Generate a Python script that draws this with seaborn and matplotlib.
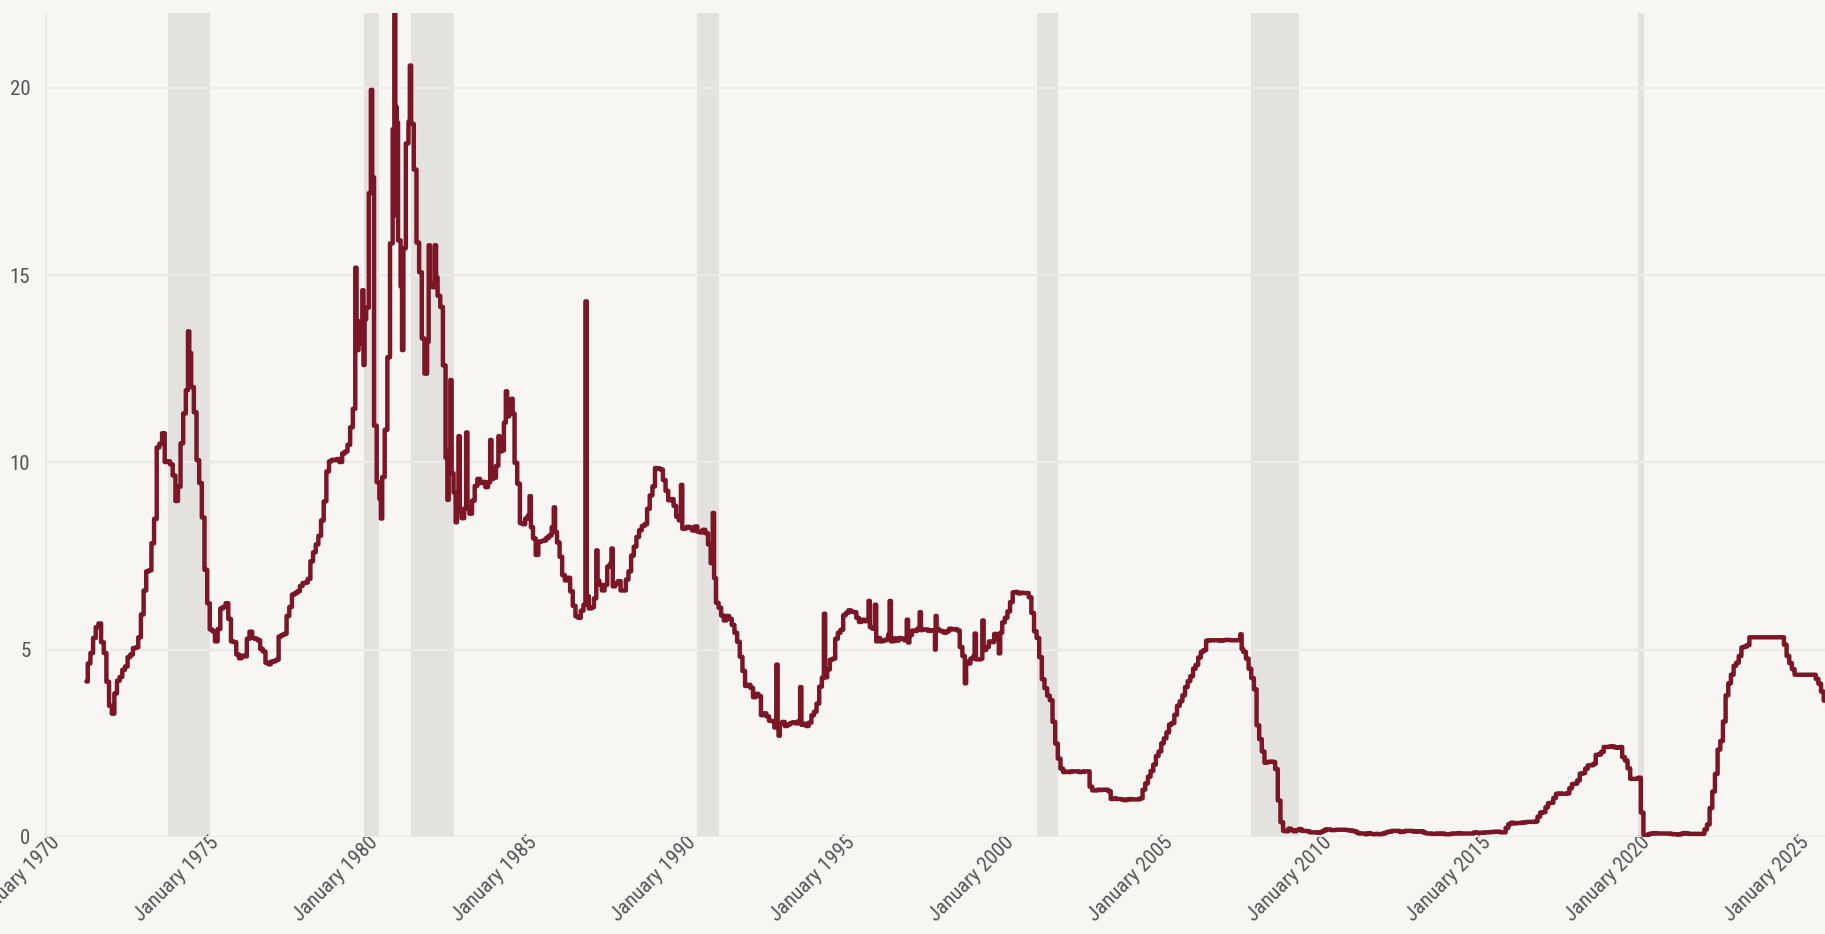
import numpy as np
import pandas as pd
import seaborn as sns
import matplotlib.pyplot as plt
import matplotlib.dates as mdates
import matplotlib.transforms as mtransforms

# Effective federal funds rate (%), monthly levels,
# first value is April 1971
rates_1970s = [
    4.15, 4.63, 4.91, 5.31, 5.60, 5.70, 5.20, 4.91, 4.14,
    3.50, 3.29, 3.83, 4.17, 4.27, 4.46, 4.55, 4.80, 4.87, 5.04, 5.06, 5.33,
    5.94, 6.58, 7.09, 7.12, 7.84, 8.49, 10.40, 10.50, 10.78, 10.01, 10.03, 9.95,
    9.65, 8.97, 9.35, 10.51, 11.31, 11.93, 12.92, 12.01, 11.34, 10.06, 9.45, 8.53,
    7.13, 6.24, 5.54, 5.49, 5.22, 5.55, 6.10, 6.14, 6.24, 5.82, 5.22, 5.20,
    4.87, 4.77, 4.84, 4.82, 5.29, 5.48, 5.31, 5.29, 5.25, 5.02, 4.95, 4.65,
    4.61, 4.68, 4.69, 4.73, 5.35, 5.39, 5.42, 5.90, 6.14, 6.47, 6.51, 6.56,
    6.70, 6.78, 6.79, 6.89, 7.36, 7.60, 7.81, 8.04, 8.45, 8.96, 9.76, 10.03,
    10.07, 10.06, 10.09, 10.01, 10.24, 10.29, 10.47, 10.94, 11.43, 13.77, 13.18, 13.78,
]
rates_1980s = [
    13.82, 14.13, 17.19, 17.61, 10.98, 9.47, 9.03, 9.61, 10.87, 12.81, 15.85, 18.90,
    19.08, 15.93, 14.70, 15.72, 18.52, 19.10, 19.04, 17.82, 15.87, 15.08, 13.31, 12.37,
    13.22, 14.78, 14.68, 14.94, 14.45, 14.15, 12.59, 10.12, 10.31, 9.71, 9.20, 8.95,
    8.68, 8.51, 8.77, 8.80, 8.63, 8.98, 9.37, 9.56, 9.45, 9.48, 9.34, 9.47,
    9.56, 9.59, 9.91, 10.29, 10.32, 11.06, 11.23, 11.64, 11.30, 9.99, 9.43, 8.38,
    8.35, 8.50, 8.58, 8.27, 7.97, 7.53, 7.88, 7.90, 7.92, 7.99, 8.05, 8.27,
    8.14, 7.86, 7.48, 6.99, 6.85, 6.92, 6.56, 6.17, 5.89, 5.85, 6.04, 6.20,
    6.43, 6.10, 6.13, 6.37, 6.85, 6.73, 6.58, 6.73, 7.22, 7.29, 6.69, 6.77,
    6.83, 6.58, 6.58, 6.87, 7.09, 7.51, 7.75, 8.01, 8.19, 8.30, 8.35, 8.76,
    9.12, 9.36, 9.85, 9.84, 9.81, 9.53, 9.24, 8.99, 9.02, 8.84, 8.55, 8.45,
]
rates_1990s = [
    8.23, 8.24, 8.28, 8.26, 8.18, 8.29, 8.15, 8.13, 8.20, 8.11, 7.81, 7.31,
    6.91, 6.25, 6.12, 5.91, 5.78, 5.90, 5.82, 5.66, 5.45, 5.21, 4.81, 4.43,
    4.03, 4.06, 3.98, 3.73, 3.82, 3.76, 3.25, 3.30, 3.22, 3.10, 3.09, 2.92,
    3.02, 3.03, 3.07, 2.96, 3.00, 3.04, 3.06, 3.03, 3.09, 2.99, 3.02, 2.96,
    3.05, 3.25, 3.34, 3.56, 4.01, 4.25, 4.26, 4.47, 4.73, 4.76, 5.29, 5.45,
    5.53, 5.92, 5.98, 6.05, 6.01, 6.00, 5.85, 5.74, 5.80, 5.76, 5.80, 5.60,
    5.56, 5.22, 5.31, 5.22, 5.24, 5.27, 5.40, 5.22, 5.30, 5.24, 5.31, 5.29,
    5.25, 5.19, 5.39, 5.51, 5.50, 5.56, 5.52, 5.54, 5.54, 5.50, 5.52, 5.50,
    5.56, 5.51, 5.49, 5.45, 5.49, 5.56, 5.54, 5.55, 5.51, 5.07, 4.83, 4.68,
    4.63, 4.76, 4.81, 4.74, 4.74, 4.76, 4.99, 5.07, 5.22, 5.20, 5.42, 5.30,
]
rates_2000s = [
    5.45, 5.73, 5.85, 6.02, 6.27, 6.53, 6.54, 6.50, 6.52, 6.51, 6.51, 6.40,
    5.98, 5.49, 5.31, 4.80, 4.21, 3.97, 3.77, 3.65, 3.07, 2.49, 2.09, 1.82,
    1.73, 1.74, 1.73, 1.75, 1.75, 1.75, 1.73, 1.74, 1.75, 1.75, 1.34, 1.24,
    1.24, 1.26, 1.25, 1.26, 1.26, 1.22, 1.01, 1.03, 1.01, 1.01, 1.00, 0.98,
    1.00, 1.01, 1.00, 1.00, 1.00, 1.03, 1.26, 1.43, 1.61, 1.76, 1.93, 2.16,
    2.28, 2.50, 2.63, 2.79, 3.00, 3.04, 3.26, 3.50, 3.62, 3.78, 4.00, 4.16,
    4.29, 4.49, 4.59, 4.79, 4.94, 4.99, 5.24, 5.25, 5.25, 5.25, 5.25, 5.24,
    5.25, 5.26, 5.26, 5.25, 5.25, 5.25, 5.26, 5.02, 4.94, 4.76, 4.49, 4.24,
    3.94, 2.98, 2.61, 2.28, 1.98, 2.00, 2.01, 2.00, 1.81, 0.97, 0.39, 0.16,
    0.15, 0.22, 0.18, 0.15, 0.18, 0.21, 0.16, 0.16, 0.15, 0.12, 0.12, 0.12,
]
rates_2010s = [
    0.11, 0.13, 0.16, 0.20, 0.20, 0.18, 0.18, 0.19, 0.19, 0.19, 0.19, 0.18,
    0.17, 0.16, 0.14, 0.10, 0.09, 0.09, 0.07, 0.10, 0.08, 0.07, 0.08, 0.07,
    0.08, 0.10, 0.13, 0.14, 0.16, 0.16, 0.16, 0.13, 0.14, 0.16, 0.16, 0.16,
    0.14, 0.15, 0.14, 0.15, 0.11, 0.09, 0.09, 0.08, 0.08, 0.09, 0.08, 0.09,
    0.07, 0.07, 0.08, 0.09, 0.09, 0.10, 0.09, 0.09, 0.09, 0.09, 0.09, 0.12,
    0.11, 0.11, 0.11, 0.12, 0.12, 0.13, 0.13, 0.14, 0.14, 0.12, 0.12, 0.24,
    0.34, 0.38, 0.36, 0.37, 0.37, 0.38, 0.39, 0.40, 0.40, 0.40, 0.41, 0.54,
    0.65, 0.66, 0.79, 0.90, 0.91, 1.04, 1.15, 1.16, 1.15, 1.15, 1.16, 1.30,
    1.41, 1.42, 1.51, 1.69, 1.70, 1.82, 1.91, 1.91, 1.95, 2.19, 2.20, 2.27,
    2.40, 2.40, 2.41, 2.42, 2.39, 2.38, 2.40, 2.13, 2.04, 1.83, 1.55, 1.55,
]
rates_2020s = [
    1.55, 1.58, 0.65, 0.05, 0.05, 0.08, 0.09, 0.10, 0.09, 0.09, 0.09, 0.09,
    0.09, 0.08, 0.07, 0.07, 0.06, 0.08, 0.10, 0.09, 0.08, 0.08, 0.08, 0.08,
    0.08, 0.08, 0.20, 0.33, 0.77, 1.21, 1.68, 2.33, 2.56, 3.08, 3.78, 4.10,
    4.33, 4.57, 4.65, 4.83, 5.06, 5.08, 5.12, 5.33, 5.33, 5.33, 5.33, 5.33,
    5.33, 5.33, 5.33, 5.33, 5.33, 5.33, 5.33, 5.33, 5.13, 4.83, 4.64, 4.48,
    4.33, 4.33, 4.33, 4.33, 4.33, 4.33, 4.33, 4.33, 4.22, 4.09, 3.88, 3.64,
]

# single-day spikes and dips that stick out of the daily series
spike_dates = [
    "1974-07-03", "1979-10-10", "1979-10-25", "1979-12-20", "1980-01-10",
    "1980-04-03", "1980-07-20", "1980-12-23", "1981-01-07", "1981-01-14",
    "1981-03-20", "1981-06-15", "1982-01-20", "1982-04-10", "1982-08-25",
    "1982-10-01", "1982-12-01", "1983-01-05", "1983-04-01", "1984-01-03",
    "1984-04-10", "1984-06-28", "1984-09-01", "1985-03-27", "1986-01-02",
    "1986-12-31", "1987-05-08", "1987-10-20", "1990-01-02", "1991-01-02",
    "1992-12-31", "1993-01-20", "1993-09-30", "1994-06-30", "1995-11-20",
    "1996-02-12", "1996-07-18", "1997-02-12", "1997-07-08", "1997-12-24",
    "1997-12-31", "1998-12-10", "1999-03-25", "1999-06-18", "1999-12-31",
    "2007-08-09",
]
spike_rates = [
    13.5, 15.2, 13.0, 14.6, 12.6,
    19.95, 8.5, 22.0, 16.6, 19.5,
    13.0, 20.6, 15.8, 15.8, 9.0,
    12.2, 8.4, 10.7, 10.8, 10.6,
    10.7, 11.9, 11.7, 9.1, 8.8,
    14.3, 7.65, 7.7, 9.4, 8.65,
    4.6, 2.7, 4.0, 5.96, 6.3,
    6.2, 6.3, 5.8, 6.0, 5.0,
    5.9, 4.1, 5.43, 5.78, 4.9,
    5.41,
]

recession_starts = ["1973-11-01", "1980-01-01", "1981-07-01", "1990-07-01",
                    "2001-03-01", "2007-12-01", "2020-02-01"]
recession_ends = ["1975-03-01", "1980-07-01", "1982-11-01", "1991-03-01",
                  "2001-11-01", "2009-06-01", "2020-04-01"]

bg = "#f8f6f2"
grid_c = "#ebe9e9"
shade_c = "#e3e2de"
line_c = "#7b1626"
text_c = "#555555"

monthly = rates_1970s + rates_1980s + rates_1990s + rates_2000s + rates_2010s + rates_2020s
month_dates = pd.date_range("1971-04-01", periods=len(monthly), freq="MS") + pd.Timedelta(days=14)
df = pd.concat([
    pd.DataFrame({"date": month_dates, "rate": monthly}),
    pd.DataFrame({"date": pd.to_datetime(spike_dates), "rate": spike_rates}),
]).sort_values("date").reset_index(drop=True)

sns.set_theme(style="white")
plt.rcParams["font.family"] = ["Roboto Condensed", "Roboto", "DejaVu Sans"]

fig = plt.figure(figsize=(18.25, 9.34), dpi=100, facecolor=bg)
ax = fig.add_axes([0.025, 0.104, 0.975, 0.882])
ax.set_facecolor(bg)

for s, e in zip(recession_starts, recession_ends):
    ax.axvspan(pd.Timestamp(s), pd.Timestamp(e), color=shade_c, lw=0, zorder=0.3)

sns.lineplot(data=df, x="date", y="rate", ax=ax, color=line_c, linewidth=3.2,
             estimator=None, drawstyle="steps-mid", zorder=3)

ax.set_ylim(0, 22)
ax.set_xlim(pd.Timestamp("1970-01-01"), df["date"].max())
ax.set_yticks([0, 5, 10, 15, 20])
ax.xaxis.set_major_locator(mdates.YearLocator(5))
ax.xaxis.set_major_formatter(mdates.DateFormatter("January %Y"))

ax.yaxis.grid(True, color=grid_c, linewidth=1.6, zorder=0.5)
ax.xaxis.grid(False)
ax.set_axisbelow(True)
for side in ("top", "right", "bottom"):
    ax.spines[side].set_visible(False)
ax.spines["left"].set_color(grid_c)
ax.spines["left"].set_linewidth(1.6)

ax.tick_params(axis="y", length=7, width=1.6, color=grid_c, labelsize=15,
               labelcolor=text_c, pad=4)
ax.tick_params(axis="x", length=5, width=1.6, color=grid_c, labelsize=15,
               labelcolor=text_c, pad=-3)
shift = mtransforms.ScaledTranslation(11 / 100, 0, fig.dpi_scale_trans)
for lbl in ax.get_xticklabels():
    lbl.set_rotation(45)
    lbl.set_ha("right")
    lbl.set_va("center")
    lbl.set_rotation_mode("anchor")
    lbl.set_transform(lbl.get_transform() + shift)

ax.set_xlabel("")
ax.set_ylabel("")

fig.savefig("out.png", dpi=100, facecolor=bg)
